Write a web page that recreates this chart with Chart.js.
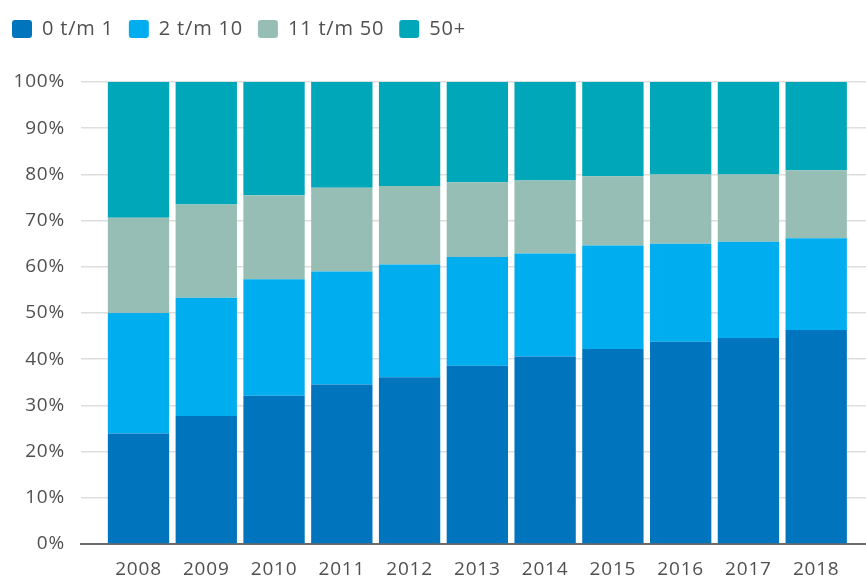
<!DOCTYPE html>
<html>
<head>
<meta charset="utf-8">
<script src="https://cdn.jsdelivr.net/npm/chart.js@4/dist/chart.umd.min.js"></script>
<style>
  html, body { margin: 0; padding: 0; background: #ffffff; }
  canvas { display: block; }
</style>
</head>
<body>
<canvas id="c" width="866" height="580"></canvas>
<script>
// ---- data (percent of total, segment sizes per year) ----
const years = ['2008','2009','2010','2011','2012','2013','2014','2015','2016','2017','2018'];
const seriesNames = ['0 t/m 1', '2 t/m 10', '11 t/m 50', '50+'];
const size0to1   = [23.9, 27.7, 32.1, 34.5, 36.1, 38.6, 40.6, 42.2, 43.8, 44.6, 46.3];
const size2to10  = [26.1, 25.6, 25.2, 24.5, 24.4, 23.5, 22.3, 22.4, 21.2, 20.8, 19.9];
const size11to50 = [20.6, 20.2, 18.2, 18.1, 17.0, 16.2, 15.8, 15.0, 15.0, 14.6, 14.7];
const size50plus = [29.4, 26.5, 24.5, 22.9, 22.5, 21.7, 21.3, 20.4, 20.0, 20.0, 19.1];
const yTicks = [0, 10, 20, 30, 40, 50, 60, 70, 80, 90, 100];

const colors = ['#0075be', '#00aeef', '#96beb4', '#00a7b8'];
const textColor = '#505050';
const FONT = "'Open Sans', 'Noto Sans', sans-serif";
const SPACING = '0.8px';

const textTweaksPlugin = {
  id: 'textTweaks',
  beforeInit(chart) {
    const legend = chart.legend;
    if (legend) {
      const origFit = legend.fit.bind(legend);
      legend.fit = function () { origFit(); this.height = 78; };
    }
  },
  beforeUpdate(chart) { chart.ctx.letterSpacing = SPACING; },
  beforeLayout(chart) { chart.ctx.letterSpacing = SPACING; },
  beforeDraw(chart) { chart.ctx.letterSpacing = SPACING; }
};

const datasets = [size0to1, size2to10, size11to50, size50plus].map((d, i) => ({
  label: seriesNames[i],
  data: d,
  backgroundColor: colors[i],
  borderWidth: 0,
  borderRadius: 0,
  categoryPercentage: 1.0,
  barPercentage: 0.905
}));

new Chart(document.getElementById('c'), {
  type: 'bar',
  data: { labels: years, datasets },
  plugins: [textTweaksPlugin],
  options: {
    responsive: false,
    animation: false,
    devicePixelRatio: 1,
    layout: { padding: { top: 4, left: -3, right: 0, bottom: 0 } },
    plugins: {
      tooltip: { enabled: false },
      legend: {
        position: 'top',
        align: 'start',
        labels: {
          boxWidth: 20,
          boxHeight: 18,
          padding: 15,
          useBorderRadius: true,
          borderRadius: 3,
          color: textColor,
          font: { family: FONT, size: 20 }
        }
      }
    },
    scales: {
      x: {
        type: 'linear',
        stacked: true,
        offset: false,
        min: 2007.1515,
        max: 2018.7348,
        grid: { display: false, drawTicks: false },
        border: { display: true, color: '#6a6a6a', width: 2 },
        afterBuildTicks(scale) { scale.ticks = years.map(y => ({ value: Number(y) })); },
        afterFit(scale) { scale.height = 36; },
        ticks: {
          color: textColor,
          padding: 14,
          maxRotation: 0,
          autoSkip: false,
          font: { family: FONT, size: 19 },
          callback: (v) => String(v)
        }
      },
      y: {
        stacked: true,
        min: 0,
        max: 100,
        afterBuildTicks(scale) { scale.ticks = yTicks.map(v => ({ value: v })); },
        afterFit(scale) { scale.width = 84; },
        grid: { color: '#dedede', lineWidth: 1.5, drawTicks: false },
        border: { display: false },
        ticks: {
          color: textColor,
          padding: 16,
          font: { family: FONT, size: 19 },
          callback: (v) => v + '%'
        }
      }
    }
  }
});
</script>
</body>
</html>
